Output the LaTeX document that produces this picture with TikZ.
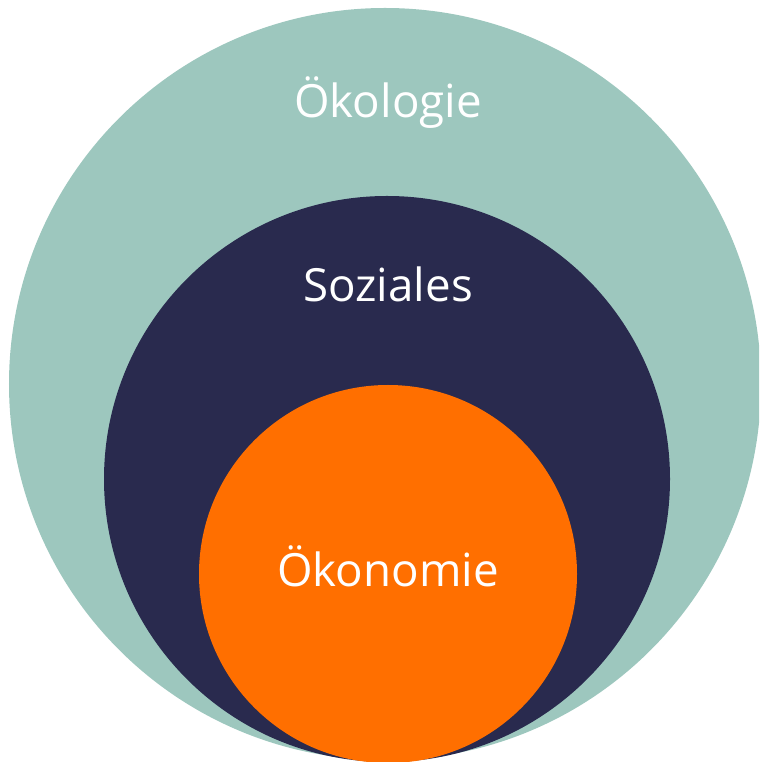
\documentclass[tikz,border=0pt]{standalone}
\usepackage{fontspec}
\setmainfont{Open Sans}
\usepackage{tikz}
\definecolor{teal1}{HTML}{9DC7BE}
\definecolor{navy1}{HTML}{292A4E}
\definecolor{orange1}{HTML}{FF6F00}
\tikzset{ring/.style={circle,inner sep=0pt,draw=none},
  lbl/.style={anchor=base,text=white,font=\fontsize{26}{30}\selectfont}}

\begin{document}
\begin{tikzpicture}
  \useasboundingbox(0,0)rectangle(15.18,15.24);
  \clip(0,0)rectangle(15.18,15.24);
  \node[ring,fill=teal1,minimum size=15.04cm](oek) at(7.70,7.56){};
  \node[ring,fill=navy1,minimum size=11.32cm](soz) at(7.74,5.66){};
  \node[ring,fill=orange1,minimum size=7.56cm](eco) at(7.76,3.76){};
  \node[lbl] (toek) at(7.76,12.88){Ökologie};
  \node[lbl] (tsoz) at(7.76,9.20){Soziales};
  \node[lbl] (teco) at(7.76,3.50){Ökonomie};
\end{tikzpicture}
\end{document}
